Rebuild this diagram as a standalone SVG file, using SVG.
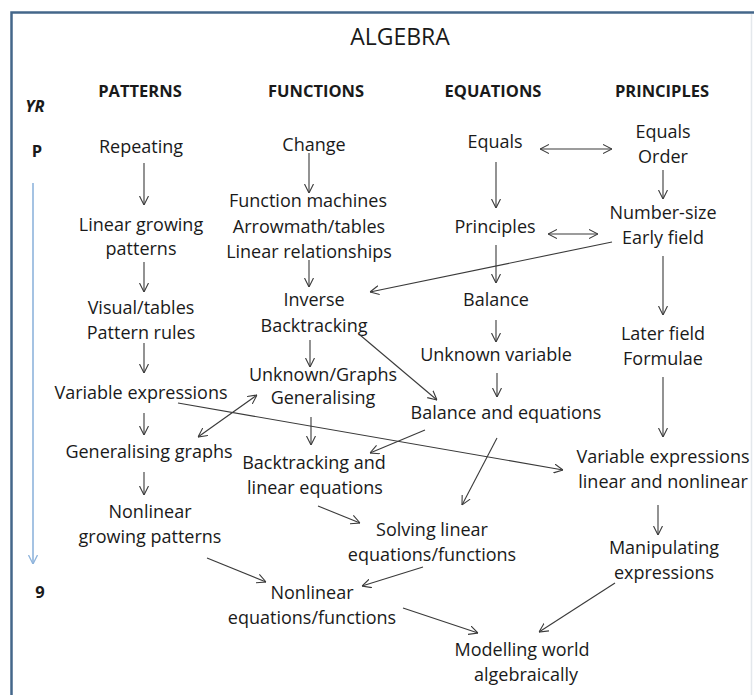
<svg xmlns="http://www.w3.org/2000/svg" width="754" height="695" viewBox="0 0 754 695">
  <style>
    text { font-family: "Open Sans", "Noto Sans", "Liberation Sans", sans-serif; fill: #1a1a1a; text-anchor: middle; }
    .node text { font-size: 18px; }
    .title { font-size: 23px; }
    .head { font-size: 16.5px; font-weight: bold; }
    .yr { font-size: 16.5px; font-weight: bold; }
    .conn line { stroke: #3a3a3a; stroke-width: 1.1; fill: none; marker-end: url(#arr); }
    .conn line.both { marker-start: url(#arr); }
  </style>
  <defs>
    <marker id="arr" viewBox="0 0 9 10" refX="9" refY="5" markerWidth="9" markerHeight="10" markerUnits="userSpaceOnUse" orient="auto-start-reverse">
      <path d="M0,0.5 L9,5 L0,9.5" fill="none" stroke="#3a3a3a" stroke-width="1.1"/>
    </marker>
    <marker id="arrBlue" viewBox="0 0 9 10" refX="9" refY="5" markerWidth="9" markerHeight="10" markerUnits="userSpaceOnUse" orient="auto">
      <path d="M0,0.5 L9,5 L0,9.5" fill="none" stroke="#8fb4dc" stroke-width="1.3"/>
    </marker>
  </defs>

  <rect width="754" height="695" fill="#ffffff"/>
  <!-- frame (open at the bottom) -->
  <path d="M11.5,695 L11.5,12.5 L754,12.5" fill="none" stroke="#44678a" stroke-width="2.5"/>
  <line x1="751.5" y1="14" x2="751.5" y2="695" stroke="#e4e8ec" stroke-width="1.5"/>

  <!-- headings -->
  <g id="title"><text class="title" x="400" y="45">ALGEBRA</text></g>
  <g id="headings">
    <text class="head" x="140" y="97">PATTERNS</text>
    <text class="head" x="316" y="97">FUNCTIONS</text>
    <text class="head" x="493" y="97">EQUATIONS</text>
    <text class="head" x="662" y="97">PRINCIPLES</text>
  </g>

  <!-- year axis -->
  <g id="year-axis">
    <text class="yr" x="35" y="112" font-style="italic">YR</text>
    <text class="yr" x="37" y="157">P</text>
    <line x1="33" y1="183" x2="33" y2="564" stroke="#8fb4dc" stroke-width="1.6" marker-end="url(#arrBlue)"/>
    <text class="yr" x="40" y="598">9</text>
  </g>

  <!-- patterns column -->
  <g id="repeating" class="node"><text x="141" y="153">Repeating</text></g>
  <g id="linear-growing" class="node"><text x="141" y="231">Linear growing</text><text x="141" y="255">patterns</text></g>
  <g id="visual-tables" class="node"><text x="141" y="314">Visual/tables</text><text x="141" y="339">Pattern rules</text></g>
  <g id="variable-expressions" class="node"><text x="141" y="399">Variable expressions</text></g>
  <g id="generalising-graphs" class="node"><text x="149" y="458">Generalising graphs</text></g>
  <g id="nonlinear-growing" class="node"><text x="150" y="518">Nonlinear</text><text x="150" y="543">growing patterns</text></g>

  <!-- functions column -->
  <g id="change" class="node"><text x="314" y="151">Change</text></g>
  <g id="function-machines" class="node"><text x="308" y="207">Function machines</text><text x="309" y="233">Arrowmath/tables</text><text x="309" y="258">Linear relationships</text></g>
  <g id="inverse" class="node"><text x="314" y="306">Inverse</text><text x="314" y="332">Backtracking</text></g>
  <g id="unknown-graphs" class="node"><text x="323" y="381">Unknown/Graphs</text><text x="323" y="404">Generalising</text></g>
  <g id="backtracking-linear" class="node"><text x="314" y="469">Backtracking and</text><text x="315" y="494">linear equations</text></g>
  <g id="solving-linear" class="node"><text x="432" y="536">Solving linear</text><text x="432" y="561">equations/functions</text></g>
  <g id="nonlinear-equations" class="node"><text x="312" y="599">Nonlinear</text><text x="312" y="624">equations/functions</text></g>

  <!-- equations column -->
  <g id="equals" class="node"><text x="495" y="148">Equals</text></g>
  <g id="principles" class="node"><text x="495" y="233">Principles</text></g>
  <g id="balance" class="node"><text x="496" y="306">Balance</text></g>
  <g id="unknown-variable" class="node"><text x="496" y="361">Unknown variable</text></g>
  <g id="balance-equations" class="node"><text x="506" y="419">Balance and equations</text></g>
  <g id="modelling" class="node"><text x="522" y="656">Modelling world</text><text x="526" y="681">algebraically</text></g>

  <!-- principles column -->
  <g id="equals-order" class="node"><text x="663" y="138">Equals</text><text x="663" y="163">Order</text></g>
  <g id="number-size" class="node"><text x="663" y="219">Number-size</text><text x="663" y="244">Early field</text></g>
  <g id="later-field" class="node"><text x="663" y="340">Later field</text><text x="663" y="365">Formulae</text></g>
  <g id="variable-expressions-nonlinear" class="node"><text x="663" y="463">Variable expressions</text><text x="663" y="488">linear and nonlinear</text></g>
  <g id="manipulating" class="node"><text x="664" y="554">Manipulating</text><text x="664" y="579">expressions</text></g>

  <!-- connectors -->
  <g id="connectors" class="conn">
    <line x1="144" y1="163" x2="144" y2="205"/>
    <line x1="144" y1="262" x2="144" y2="292"/>
    <line x1="144" y1="343" x2="144" y2="373"/>
    <line x1="144" y1="413" x2="144" y2="435"/>
    <line x1="144" y1="472" x2="144" y2="495"/>

    <line x1="309" y1="153" x2="309" y2="193"/>
    <line x1="309" y1="260" x2="309" y2="287"/>
    <line x1="310" y1="340" x2="310" y2="367"/>
    <line x1="311" y1="417" x2="311" y2="445"/>

    <line x1="496" y1="162" x2="496" y2="208"/>
    <line x1="496" y1="245" x2="496" y2="283"/>
    <line x1="496" y1="320" x2="496" y2="342"/>
    <line x1="497" y1="373" x2="497" y2="397"/>

    <line x1="663" y1="170" x2="663" y2="199"/>
    <line x1="663" y1="256" x2="663" y2="315"/>
    <line x1="663" y1="377" x2="663" y2="437"/>
    <line x1="658" y1="505" x2="658" y2="535"/>

    <line class="both" x1="540" y1="149" x2="612" y2="149"/>
    <line class="both" x1="548" y1="234" x2="598" y2="234"/>
    <line class="both" x1="198" y1="437" x2="257" y2="395"/>

    <line x1="612" y1="242" x2="370" y2="292"/>
    <line x1="360" y1="335" x2="437" y2="400"/>
    <line x1="178" y1="403" x2="563" y2="470"/>
    <line x1="425" y1="430" x2="370" y2="453"/>
    <line x1="497" y1="438" x2="462" y2="505"/>
    <line x1="318" y1="506" x2="360" y2="523"/>
    <line x1="423" y1="567" x2="362" y2="586"/>
    <line x1="207" y1="558" x2="266" y2="582"/>
    <line x1="403" y1="608" x2="478" y2="633"/>
    <line x1="615" y1="583" x2="539" y2="632"/>
  </g>
</svg>
